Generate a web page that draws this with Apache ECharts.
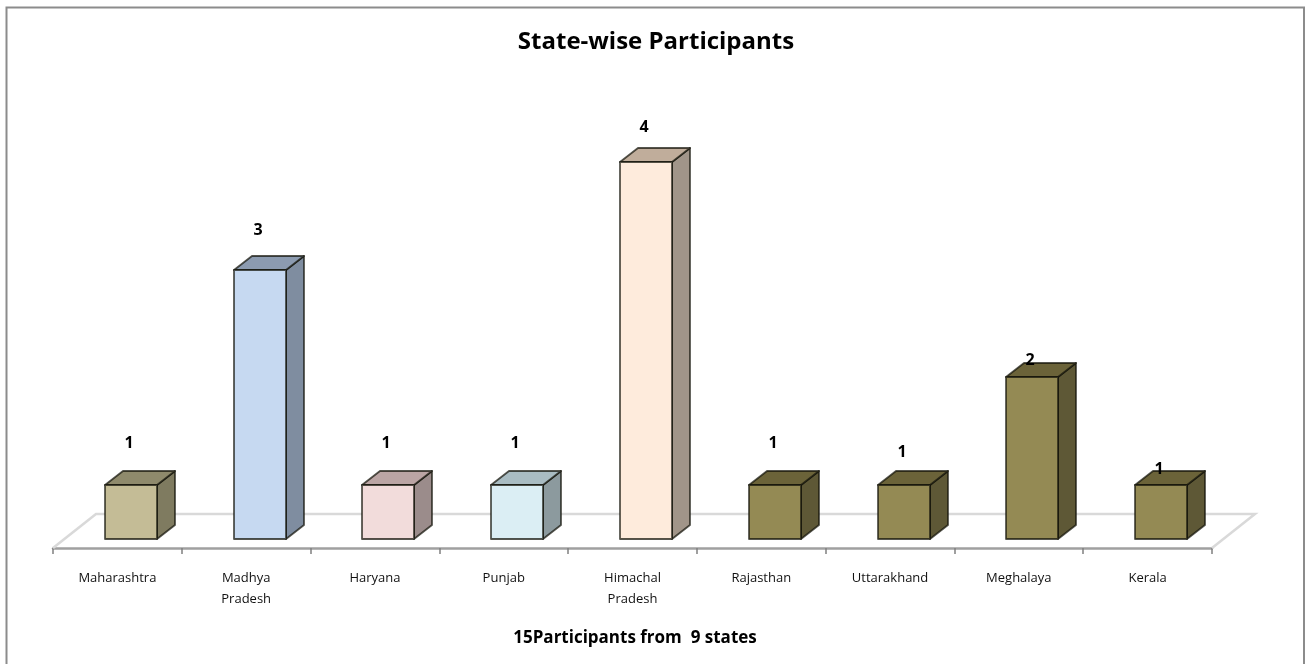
<!DOCTYPE html>
<html>
<head>
<meta charset="utf-8">
<style>html,body{margin:0;padding:0;background:#fff}#chart{width:1311px;height:664px}</style>
<script src="https://cdn.jsdelivr.net/npm/echarts@6/dist/echarts.min.js"></script>
</head>
<body>
<div id="chart"></div>
<script>
const categories = ['Maharashtra', 'Madhya\nPradesh', 'Haryana', 'Punjab', 'Himachal\nPradesh', 'Rajasthan', 'Uttarakhand', 'Meghalaya', 'Kerala'];
const participants = [1, 3, 1, 1, 4, 1, 1, 2, 1];
const titleText = 'State-wise Participants';
const footerText = '15Participants from  9 states';

// Styling only
const frontColors = ['#C4BC96', '#C6D9F1', '#F2DCDB', '#DBEEF4', '#FEEBDC', '#948A54', '#948A54', '#948A54', '#948A54'];
const topColors   = ['#8F8A6C', '#8C9BB0', '#BBA5A4', '#A9BCC2', '#C0AD9B', '#6B6339', '#6B6339', '#6B6339', '#6B6339'];
const sideColors  = ['#7F7B60', '#7F8DA0', '#9B8C8B', '#8C9A9E', '#A19589', '#5E5836', '#5E5836', '#5E5836', '#5E5836'];
const labelLift   = [42, 40, 42, 42, 35, 42, 33, 17, 16];
const font = '"Open Sans", Lato, sans-serif';

function renderFloor(params, api) {
  const c = params.coordSys, y = c.y + c.height + 9, dx = 43, dy = -34;
  return {
    type: 'polyline', silent: true,
    shape: { points: [[c.x, y], [c.x + dx, y + dy], [c.x + c.width + dx, y + dy], [c.x + c.width, y]] },
    style: { fill: null, stroke: '#D9D9D9', lineWidth: 2.5 }
  };
}

function renderBar(params, api) {
  const i = params.dataIndex;
  const pt = api.coord([i, api.value(1)]);
  const base = api.coord([i, 0.5]);
  const w = 52, dx = 18, dy = -14, shift = 13.5;
  const l = Math.round(pt[0] + shift - w / 2), r = l + w, t = Math.round(pt[1]), b = Math.round(base[1]);
  const edge = 'rgba(20,20,10,0.72)';
  const poly = (points, fill) => ({
    type: 'polygon', shape: { points },
    style: { fill, stroke: edge, lineWidth: 1.8, lineJoin: 'round' }
  });
  return {
    type: 'group',
    children: [
      poly([[r, t], [r + dx, t + dy], [r + dx, b + dy], [r, b]], sideColors[i]),
      poly([[l, t], [l + dx, t + dy], [r + dx, t + dy], [r, t]], topColors[i]),
      poly([[l, t], [r, t], [r, b], [l, b]], frontColors[i]),
      {
        type: 'text', z2: 10,
        style: {
          text: String(api.value(1)),
          x: l + w / 2 - 2, y: t - labelLift[i],
          align: 'center', verticalAlign: 'middle',
          font: 'bold 16px ' + font, fill: '#000'
        }
      }
    ]
  };
}

const chart = echarts.init(document.getElementById('chart'), null, { renderer: 'canvas' });
chart.setOption({
  animation: false,
  backgroundColor: '#fff',
  title: [
    { text: titleText, left: 651, top: 37, textAlign: 'center', textVerticalAlign: 'middle',
      textStyle: { fontFamily: font, fontWeight: 'bold', fontSize: 24, color: '#000' } },
    { text: footerText, left: 630, top: 633, textAlign: 'center', textVerticalAlign: 'middle',
      textStyle: { fontFamily: font, fontWeight: 'bold', fontSize: 17, color: '#000' } }
  ],
  graphic: [{
    type: 'polyline', silent: true,
    shape: { points: [[6.5, 680], [6.5, 7.5], [1304, 7.5], [1304, 680]] },
    style: { fill: null, stroke: '#8C8C8C', lineWidth: 2 }
  }],
  grid: { left: 53, right: 99, top: 108, bottom: 125, containLabel: false },
  xAxis: {
    type: 'category', data: categories, offset: 9,
    boundaryGap: true,
    axisLine: { show: true, lineStyle: { color: '#A0A0A0', width: 2.5 } },
    axisTick: { show: true, length: 6, lineStyle: { color: '#808080', width: 1.5 } },
    axisLabel: { interval: 0, margin: 20, fontFamily: font, fontSize: 13, lineHeight: 21, color: '#111', verticalAlign: 'top' },
    splitLine: { show: false }
  },
  yAxis: { type: 'value', min: 0.5, max: 4.5, show: false, splitLine: { show: false } },
  series: [
    { type: 'custom', renderItem: renderFloor, data: [[0, 1]], z: 1, silent: true, clip: false },
    { type: 'custom', renderItem: renderBar, encode: { x: 0, y: 1 },
      data: participants.map((v, i) => [i, v]), z: 5, silent: true, clip: false }
  ]
});
</script>
</body>
</html>
